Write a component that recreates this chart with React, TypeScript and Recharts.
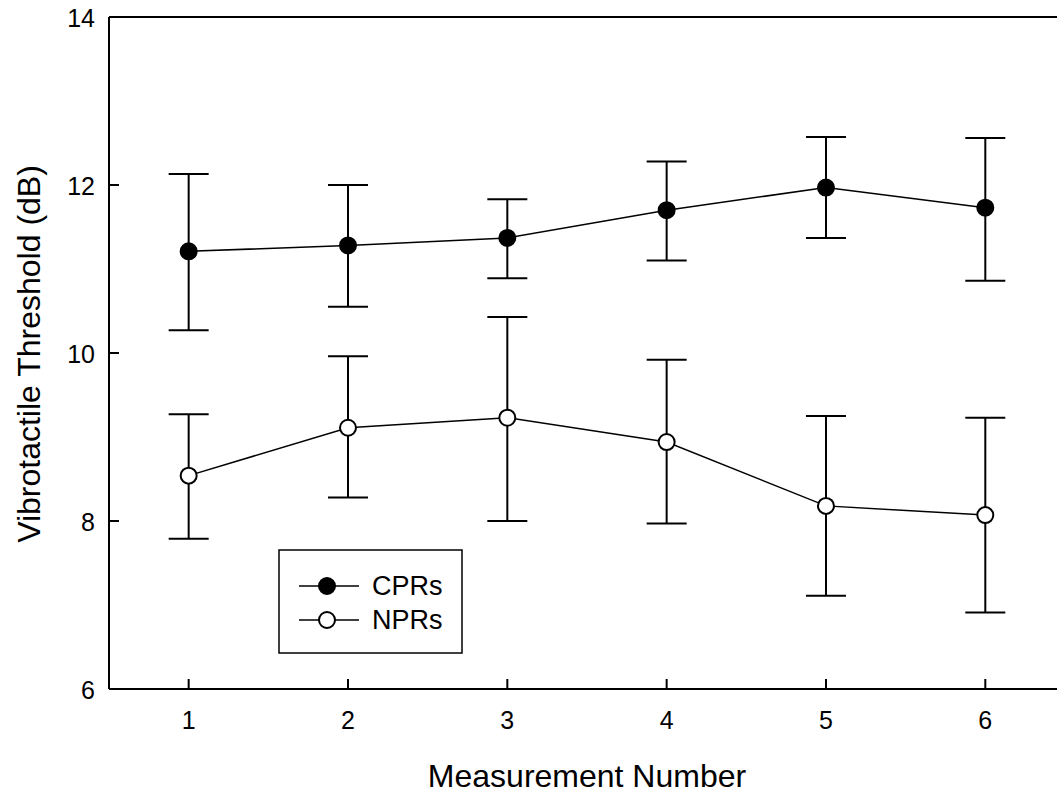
import React from 'react';
import { LineChart, Line, XAxis, YAxis, ErrorBar, ReferenceLine, Legend, Label } from 'recharts';

const measurements = [1, 2, 3, 4, 5, 6];
const cprMean = [11.21, 11.28, 11.37, 11.70, 11.97, 11.73];
const cprHigh = [12.13, 12.0, 11.83, 12.28, 12.57, 12.56];
const cprLow = [10.27, 10.55, 10.89, 11.1, 11.37, 10.86];
const nprMean = [8.54, 9.11, 9.23, 8.94, 8.18, 8.07];
const nprHigh = [9.27, 9.96, 10.43, 9.92, 9.25, 9.23];
const nprLow = [7.79, 8.28, 8.0, 7.97, 7.11, 6.91];
const xTicks = [1, 2, 3, 4, 5, 6];
const yTicks = [6, 8, 10, 12, 14];

const FONT = '"Liberation Sans", Arial, sans-serif';

const data = measurements.map((m, i) => ({
  x: m,
  cpr: cprMean[i],
  cprErr: [cprMean[i] - cprLow[i], cprHigh[i] - cprMean[i]],
  npr: nprMean[i],
  nprErr: [nprMean[i] - nprLow[i], nprHigh[i] - nprMean[i]],
}));

const XTick = (props: any) => {
  const { x, y, payload } = props;
  return (
    <g>
      <line x1={x} x2={x} y1={y} y2={y - 10} stroke="#000" strokeWidth={2} />
      <text x={x} y={y + 31} textAnchor="middle" dominantBaseline="central" fontSize={25} fontFamily={FONT} fill="#000">
        {payload.value}
      </text>
    </g>
  );
};

const YTick = (props: any) => {
  const { x, y, payload } = props;
  return (
    <g>
      <line x1={x} x2={x + 10} y1={y} y2={y} stroke="#000" strokeWidth={2} />
      <text x={x - 14} y={y + 1} textAnchor="end" dominantBaseline="central" fontSize={25} fontFamily={FONT} fill="#000">
        {payload.value}
      </text>
    </g>
  );
};

const LegendBox = () => (
  <svg width={186} height={106} style={{ display: 'block' }}>
    <rect x={1} y={1} width={183} height={103} fill="#fff" stroke="#000" strokeWidth={1.5} />
    <line x1={21} x2={81} y1={37} y2={37} stroke="#000" strokeWidth={1.5} />
    <circle cx={49} cy={37} r={8} fill="#000" stroke="#000" strokeWidth={2} />
    <text x={94} y={37} dominantBaseline="central" fontSize={27} fontFamily={FONT} fill="#000">CPRs</text>
    <line x1={21} x2={81} y1={71} y2={71} stroke="#000" strokeWidth={1.5} />
    <circle cx={49} cy={71} r={8} fill="#fff" stroke="#000" strokeWidth={2} />
    <text x={94} y={71} dominantBaseline="central" fontSize={27} fontFamily={FONT} fill="#000">NPRs</text>
  </svg>
);

export default function App() {
  return (
    <div style={{ position: 'absolute', left: 0, top: 0, width: 1057, height: 795 }}>
      <LineChart width={1057} height={795} data={data} margin={{ top: 17, right: 0, left: 0, bottom: 0 }}>
        <XAxis
          dataKey="x"
          type="number"
          domain={[0.5, 6.45]}
          allowDataOverflow
          ticks={xTicks}
          tick={<XTick />}
          tickLine={false}
          tickSize={0}
          tickMargin={0}
          height={106}
          axisLine={{ stroke: '#000', strokeWidth: 2 }}
          interval={0}
        >
          <Label
            content={() => (
              <text x={587} y={787} textAnchor="middle" fontSize={32} fontFamily={FONT} fill="#000">
                Measurement Number
              </text>
            )}
          />
        </XAxis>
        <YAxis
          type="number"
          domain={[6, 14]}
          ticks={yTicks}
          tick={<YTick />}
          tickLine={false}
          tickSize={0}
          tickMargin={0}
          width={109}
          axisLine={{ stroke: '#000', strokeWidth: 2 }}
          interval={0}
        >
          <Label
            content={() => (
              <text
                x={29}
                y={354}
                transform="rotate(-90 29 354)"
                textAnchor="middle"
                dominantBaseline="central"
                fontSize={32}
                fontFamily={FONT}
                fill="#000"
              >
                Vibrotactile Threshold (dB)
              </text>
            )}
          />
        </YAxis>
        <ReferenceLine y={14} stroke="#000" strokeWidth={2} ifOverflow="extendDomain" />
        <Line
          dataKey="cpr"
          stroke="#000"
          strokeWidth={1.5}
          isAnimationActive={false}
          dot={{ r: 8, fill: '#000', stroke: '#000', strokeWidth: 2 }}
          activeDot={false}
        >
          <ErrorBar dataKey="cprErr" direction="y" width={20} stroke="#000" strokeWidth={2} isAnimationActive={false} />
        </Line>
        <Line
          dataKey="npr"
          stroke="#000"
          strokeWidth={1.5}
          isAnimationActive={false}
          dot={{ r: 8, fill: '#fff', stroke: '#000', strokeWidth: 2 }}
          activeDot={false}
        >
          <ErrorBar dataKey="nprErr" direction="y" width={20} stroke="#000" strokeWidth={2} isAnimationActive={false} />
        </Line>
        <Legend
          layout="horizontal"
          verticalAlign="middle"
          align="center"
          content={() => <LegendBox />}
          wrapperStyle={{ left: 278, top: 549, width: 186, height: 106 }}
        />
      </LineChart>
    </div>
  );
}
